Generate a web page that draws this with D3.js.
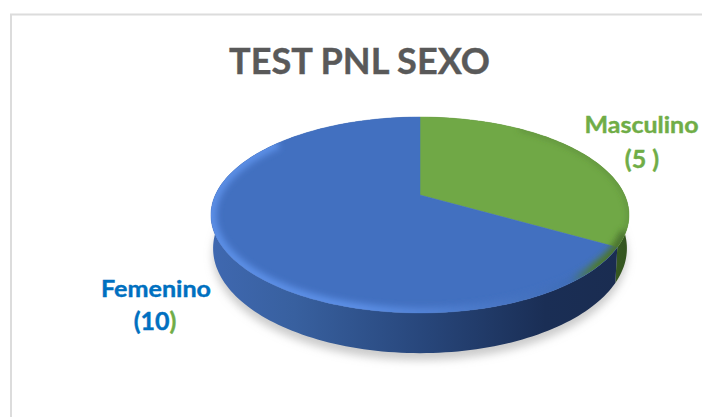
<!DOCTYPE html>
<html>
<head>
<meta charset="utf-8">
<script src="https://cdn.jsdelivr.net/npm/d3@7"></script>
<style>
html, body { margin: 0; padding: 0; background: #fff; overflow: hidden; }
text { font-family: Lato, "Open Sans", sans-serif; font-weight: 700; }
.heavy { stroke-width: 0.4; }
</style>
</head>
<body>
<div id="chart"></div>
<script>
var categories = ["Masculino", "Femenino"];
var values = [5, 10];
var chartTitle = "TEST PNL SEXO";

var width = 702, height = 417;
var topColors = ["#70a846", "#4270c0"];
var labelColors = ["#70ad47", "#0070c0"];

var svg = d3.select("#chart").append("svg")
    .attr("width", width)
    .attr("height", height);

var defs = svg.append("defs");

// chart frame, only top and left show up in the window
svg.append("rect")
    .attr("x", 11).attr("y", 14.5)
    .attr("width", 760).attr("height", 480)
    .attr("fill", "#fff")
    .attr("stroke", "#dcdcdc")
    .attr("stroke-width", 2);

svg.append("text")
    .attr("class", "heavy")
    .attr("x", 359.5).attr("y", 74)
    .attr("text-anchor", "middle")
    .attr("font-size", 37)
    .attr("fill", "#595959")
    .attr("stroke", "#595959")
    .attr("textLength", 261)
    .attr("lengthAdjust", "spacingAndGlyphs")
    .text(chartTitle);

// the 3d disc is a circle put through a perspective map
var persp = -0.204;
var xScale = d3.scaleLinear().domain([-1, 1]).range([420 - 204.6, 420 + 204.6]);
var yScale = d3.scaleLinear().domain([-1, 1]).range([195 - 54.1, 195 + 54.1]);

function project(angle, r, lowered) {
    var u = Math.sin(angle) * r, v = -Math.cos(angle) * r;
    var w = 1 + persp * v;
    var x = xScale(u / w), y = yScale(v) / w;
    if (lowered) {
        x = 420 + (x - 420) * 0.99;
        y += 32 / w;
    }
    return [x, y];
}

function angles(a0, a1) {
    var n = Math.max(2, Math.ceil((a1 - a0) * 40));
    return d3.range(n + 1).map(function (i) { return a0 + (a1 - a0) * i / n; });
}

var lineClosed = d3.line().curve(d3.curveLinearClosed);
var lineOpen = d3.line();

var pie = d3.pie().sort(null).value(function (d) { return d; });
var slices = pie(values);
var whole = angles(0, 2 * Math.PI);

function facePath(d) {
    var pts = angles(d.startAngle, d.endAngle).map(function (a) { return project(a, 1, false); });
    pts.unshift(project(0, 0, false));
    return lineClosed(pts);
}

function sidePath(d) {
    var as = angles(d.startAngle, d.endAngle);
    var upper = as.map(function (a) { return project(a, 1, false); });
    var lower = as.slice().reverse().map(function (a) { return project(a, 1, true); });
    return lineClosed(upper.concat(lower));
}

function addGradient(id, stops) {
    var g = defs.append("linearGradient")
        .attr("id", id)
        .attr("gradientUnits", "userSpaceOnUse")
        .attr("x1", 211).attr("y1", 0)
        .attr("x2", 629).attr("y2", 0);
    g.selectAll("stop").data(stops).enter().append("stop")
        .attr("offset", function (d) { return d[0]; })
        .attr("stop-color", function (d) { return d[1]; });
}

addGradient("side0", [[0, "#3d6426"], [0.9, "#3d6426"], [1, "#33531f"]]);
addGradient("side1", [[0, "#3f68b0"], [0.2, "#38609f"], [0.5, "#28477c"], [0.8, "#1a2e55"], [1, "#1a2c50"]]);
addGradient("rim", [[0, "#5c8fe6"], [0.35, "#5c8fe6"], [0.65, "#4a78c8"], [0.86, "#3f6db8"], [0.92, "#4c7a2e"], [1, "#4a6f30"]]);

defs.append("filter").attr("id", "blurShadow")
    .attr("x", "-10%").attr("y", "-10%").attr("width", "120%").attr("height", "120%")
    .append("feGaussianBlur").attr("stdDeviation", 4);
defs.append("filter").attr("id", "blurRim")
    .attr("x", "-10%").attr("y", "-10%").attr("width", "120%").attr("height", "120%")
    .append("feGaussianBlur").attr("stdDeviation", 3);

defs.append("clipPath").attr("id", "faceClip")
    .append("path")
    .attr("d", lineClosed(whole.map(function (a) { return project(a, 1, false); })));

// soft shadow under the disc
svg.append("path")
    .attr("d", lineClosed(whole.map(function (a) {
        var p = project(a, 1, true);
        return [p[0], p[1] + 7];
    })))
    .attr("fill", "#a8a8a8")
    .attr("fill-opacity", 0.6)
    .attr("filter", "url(#blurShadow)");

svg.selectAll(".side")
    .data(slices)
    .enter().append("path")
    .attr("class", "side")
    .attr("d", sidePath)
    .attr("fill", function (d, i) { return "url(#side" + i + ")"; });

svg.selectAll(".face")
    .data(slices)
    .enter().append("path")
    .attr("class", "face")
    .attr("d", facePath)
    .attr("fill", function (d, i) { return topColors[i]; })
    .attr("stroke", function (d, i) { return topColors[i]; })
    .attr("stroke-width", 0.5);

// bevel along the lower edge of the top face
svg.append("g")
    .attr("clip-path", "url(#faceClip)")
    .append("path")
    .attr("d", lineOpen(angles(1.95, 2 * Math.PI - 0.9).map(function (a) { return project(a, 1, false); })))
    .attr("fill", "none")
    .attr("stroke", "url(#rim)")
    .attr("stroke-width", 11)
    .attr("filter", "url(#blurRim)");

svg.append("g")
    .attr("clip-path", "url(#faceClip)")
    .append("path")
    .attr("d", lineOpen(angles(0.6, 2.1).map(function (a) { return project(a, 1, false); })))
    .attr("fill", "none")
    .attr("stroke", "#4f7a33")
    .attr("stroke-width", 3)
    .attr("stroke-opacity", 0.7)
    .attr("filter", "url(#blurRim)");

// data labels
svg.append("text")
    .attr("class", "heavy")
    .attr("x", 641.5).attr("y", 133)
    .attr("text-anchor", "middle")
    .attr("font-size", 23)
    .attr("fill", labelColors[0])
    .attr("stroke", labelColors[0])
    .attr("textLength", 114)
    .attr("lengthAdjust", "spacingAndGlyphs")
    .text(categories[0]);

svg.append("text")
    .attr("class", "heavy")
    .attr("x", 642).attr("y", 168)
    .attr("text-anchor", "middle")
    .attr("font-size", 25)
    .attr("fill", labelColors[0])
    .attr("stroke", labelColors[0])
    .text("(" + values[0] + " )");

svg.append("text")
    .attr("class", "heavy")
    .attr("x", 156).attr("y", 297)
    .attr("text-anchor", "middle")
    .attr("font-size", 23)
    .attr("fill", labelColors[1])
    .attr("stroke", labelColors[1])
    .attr("textLength", 110)
    .attr("lengthAdjust", "spacingAndGlyphs")
    .text(categories[1]);

var valueLabel = svg.append("text")
    .attr("class", "heavy")
    .attr("x", 155).attr("y", 330)
    .attr("text-anchor", "middle")
    .attr("font-size", 25)
    .attr("fill", labelColors[1])
    .attr("stroke", labelColors[1]);
valueLabel.append("tspan").text("(" + values[1]);
valueLabel.append("tspan")
    .attr("fill", labelColors[0])
    .attr("stroke", labelColors[0])
    .text(")");
</script>
</body>
</html>
